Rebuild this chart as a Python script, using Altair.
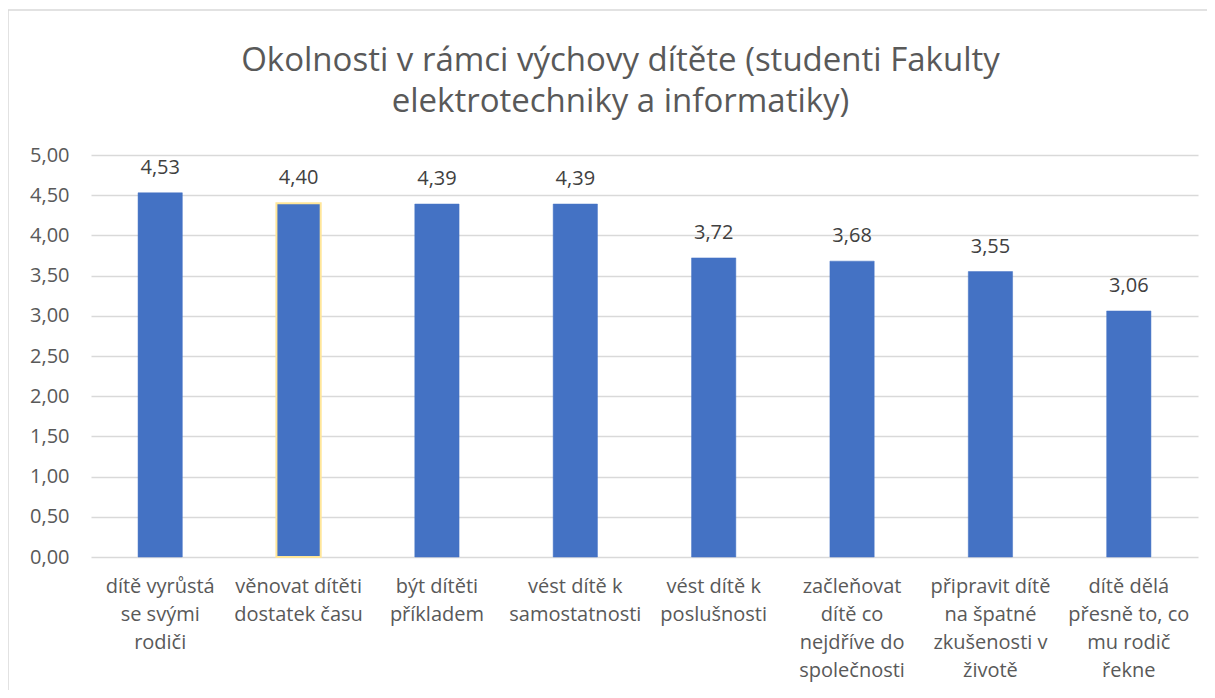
import altair as alt
import pandas as pd

categories = [
    "dítě vyrůstá|se svými|rodiči",
    "věnovat dítěti|dostatek času",
    "být dítěti|příkladem",
    "vést dítě k|samostatnosti",
    "vést dítě k|poslušnosti",
    "začleňovat|dítě co|nejdříve do|společnosti",
    "připravit dítě|na špatné|zkušenosti v|životě",
    "dítě dělá|přesně to, co|mu rodič|řekne",
]
values = [4.53, 4.40, 4.39, 4.39, 3.72, 3.68, 3.55, 3.06]
highlight = [False, True, False, False, False, False, False, False]

df = pd.DataFrame({"cat": categories, "val": values, "hl": highlight})
df["lbl"] = [f"{v:.2f}".replace(".", ",") for v in values]

FONT = "Open Sans"
GRAY = "#595959"

x_enc = alt.X(
    "cat:N",
    sort=categories,
    title=None,
    scale=alt.Scale(paddingInner=0.68, paddingOuter=0.34),
    axis=alt.Axis(
        labelExpr="split(datum.label, '|')",
        labelAngle=0,
        labelFont=FONT,
        labelFontSize=20,
        labelColor=GRAY,
        labelLineHeight=28,
        labelPadding=19,
        labelBaseline="top",
        ticks=False,
        domain=False,
        labelLimit=200,
    ),
)
y_enc = alt.Y(
    "val:Q",
    title=None,
    scale=alt.Scale(domain=[0, 5]),
    axis=alt.Axis(
        values=[0, 0.5, 1, 1.5, 2, 2.5, 3, 3.5, 4, 4.5, 5],
        labelExpr="replace(format(datum.value, '.2f'), '.', ',')",
        labelFont=FONT,
        labelFontSize=20,
        labelColor=GRAY,
        labelPadding=22,
        ticks=False,
        domain=False,
        gridColor="#d9d9d9",
        gridWidth=1.3,
    ),
)

frame = alt.Chart(pd.DataFrame({"a": [0]})).mark_rect(
    fill=None, stroke="#d9d9d9", strokeWidth=1.5
).encode(
    x=alt.value(-83), x2=alt.value(1140), y=alt.value(-145), y2=alt.value(560)
)

bars = alt.Chart(df).mark_bar(color="#4472C4").encode(
    x=x_enc,
    y=y_enc,
    stroke=alt.condition("datum.hl", alt.value("#FFE699"), alt.value("#4472C4")),
    strokeWidth=alt.condition("datum.hl", alt.value(2), alt.value(0.5)),
)

labels = alt.Chart(df).mark_text(
    dy=-25, font=FONT, fontSize=20, color="#404040", baseline="middle"
).encode(
    x=alt.X("cat:N", sort=categories),
    y="val:Q",
    text="lbl:N",
)

chart = alt.layer(frame, bars, labels).properties(
    width=1107,
    height=402,
    autosize=alt.AutoSizeParams(type="none"),
    padding={"left": 83, "top": 147, "right": 9, "bottom": 133},
    title=alt.TitleParams(
        text=["Okolnosti v rámci výchovy dítěte (studenti Fakulty", "elektrotechniky a informatiky)"],
        font=FONT,
        fontSize=33,
        fontWeight="normal",
        color=GRAY,
        lineHeight=41,
        anchor="middle",
        offset=-110,
        dx=-24,
    ),
).configure_view(stroke=None)

chart.save("out.html", embed_options={"renderer": "svg", "actions": False})
